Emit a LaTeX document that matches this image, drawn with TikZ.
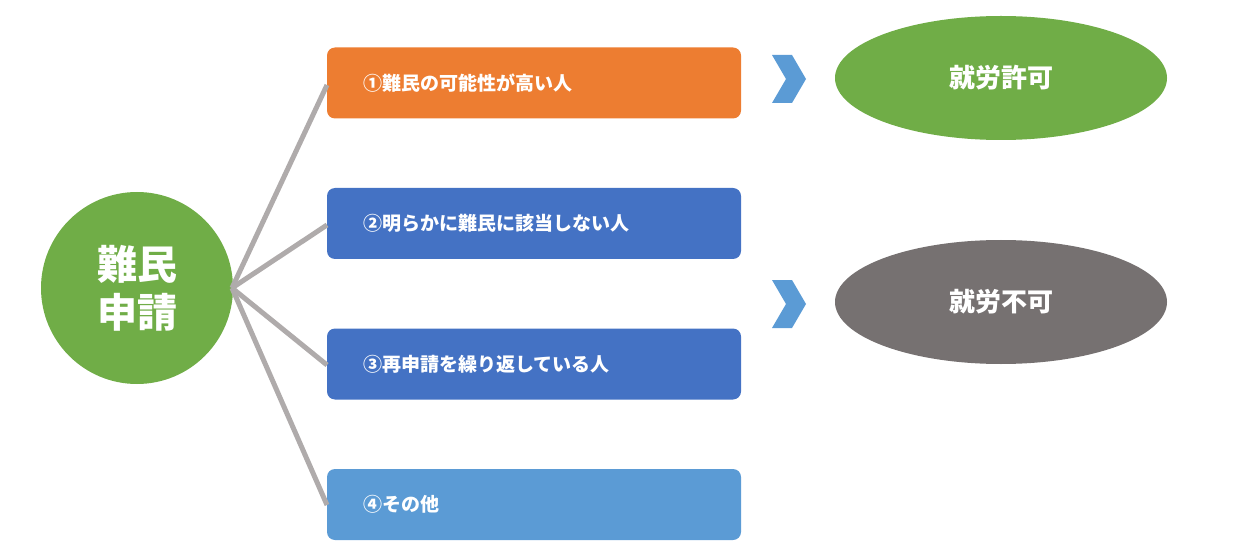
\documentclass[tikz,border=0pt]{standalone}
\usepackage{fontspec}
\setmainfont{Noto Sans CJK JP}
\usetikzlibrary{shapes.geometric}
\definecolor{cOr}{HTML}{ED7D31}
\definecolor{cBl}{HTML}{4472C4}
\definecolor{cLb}{HTML}{5B9BD5}
\definecolor{cGr}{HTML}{70AD47}
\definecolor{cGy}{HTML}{767171}
\definecolor{cLn}{HTML}{AFABAB}
\begin{document}
\begin{tikzpicture}[x=1pt,y=-1pt,
 box/.style={fill=#1,rounded corners=8pt,minimum width=414pt,minimum height=71pt,inner sep=0pt},
 btxt/.style={text=white,font=\bfseries\fontsize{19}{19}\selectfont,anchor=west},
 ell/.style={ellipse,fill=#1,minimum width=332pt,minimum height=124pt,text=white,font=\bfseries\fontsize{26}{26}\selectfont},
 conn/.style={draw=cLn,line width=5pt},
 chev/.style={fill=cLb}]
\useasboundingbox (0,0) rectangle (1260,553);
\node[circle,fill=cGr,minimum size=192pt,text=white,font=\bfseries\fontsize{40}{48}\selectfont,align=center] (c) at (137,288) {難民\\申請};
\coordinate (o) at (232,288);
\node[box=cOr] (b1) at (534,83) {};
\node[box=cBl] (b2) at (534,223.5) {};
\node[box=cBl] (b3) at (534,364) {};
\node[box=cLb] (b4) at (534,504.5) {};
\node[btxt] at (360,83) {①難民の可能性が高い人};
\node[btxt] at (360,223.5) {②明らかに難民に該当しない人};
\node[btxt] at (360,364) {③再申請を繰り返している人};
\node[btxt] at (360,504.5) {④その他};
\coordinate (e1) at (327,85);
\coordinate (e2) at (327,225);
\coordinate (e3) at (327,365);
\coordinate (e4) at (327,505);
\foreach \i in {1,...,4} \draw[conn] (o) -- (e\i);
\fill[chev] (772,55) -- (792,55) -- (806,79) -- (792,103) -- (772,103) -- (786,79) -- cycle;
\fill[chev] (772,280) -- (792,280) -- (806,304) -- (792,328) -- (772,328) -- (786,304) -- cycle;
\node[ell=cGr] (p) at (1001,78) {就労許可};
\node[ell=cGy] (n) at (1001,302) {就労不可};
\end{tikzpicture}
\end{document}
